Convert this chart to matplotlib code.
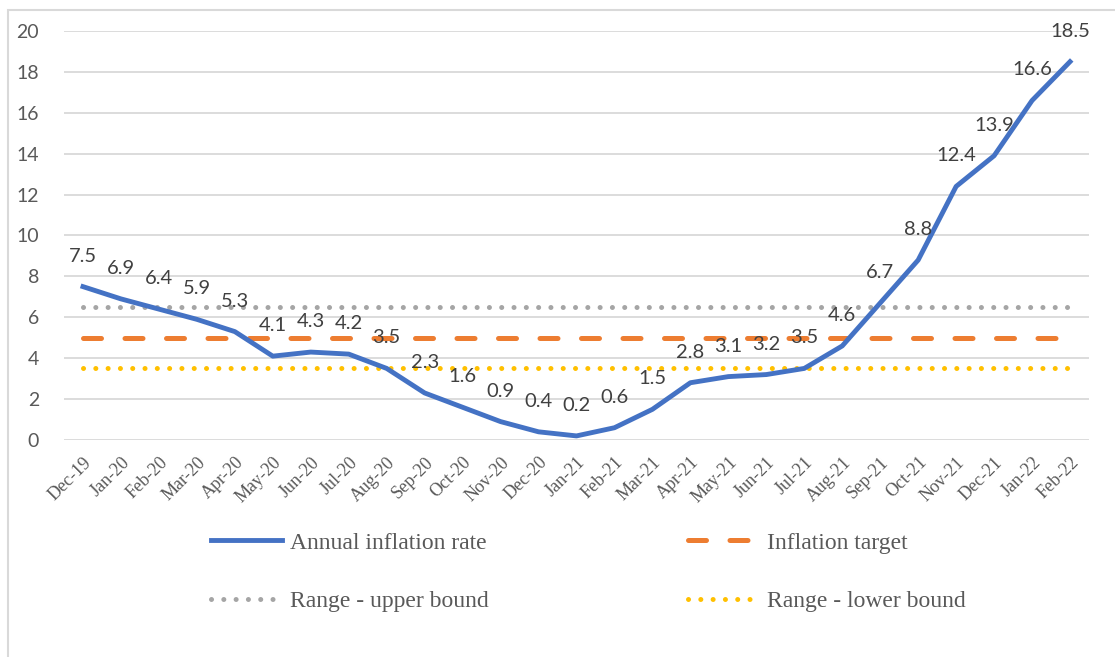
import matplotlib
matplotlib.use("Agg")
import matplotlib.pyplot as plt
from matplotlib.patches import Rectangle

# Data
months = ['Dec-19', 'Jan-20', 'Feb-20', 'Mar-20', 'Apr-20', 'May-20', 'Jun-20', 'Jul-20',
          'Aug-20', 'Sep-20', 'Oct-20', 'Nov-20', 'Dec-20', 'Jan-21', 'Feb-21', 'Mar-21',
          'Apr-21', 'May-21', 'Jun-21', 'Jul-21', 'Aug-21', 'Sep-21', 'Oct-21', 'Nov-21',
          'Dec-21', 'Jan-22', 'Feb-22']
inflation = [7.5, 6.9, 6.4, 5.9, 5.3, 4.1, 4.3, 4.2, 3.5, 2.3, 1.6, 0.9, 0.4, 0.2, 0.6,
             1.5, 2.8, 3.1, 3.2, 3.5, 4.6, 6.7, 8.8, 12.4, 13.9, 16.6, 18.5]
target = [5.0] * len(months)
upper = [6.5] * len(months)
lower = [3.5] * len(months)

W, H = 1115, 657
fig = plt.figure(figsize=(W / 100, H / 100), dpi=100)
ax = fig.add_axes([64 / W, 1 - 440 / H, (1089 - 64) / W, (440 - 31) / H])

x = list(range(len(months)))
text_col = '#595959'

# Series
ax.plot(x, upper, color='#A5A5A5', lw=3.6, linestyle=(0, (0.01, 2.45)),
        dash_capstyle='round', label='Range - upper bound', zorder=3)
ax.plot(x, lower, color='#FFC000', lw=3.6, linestyle=(0, (0.01, 2.45)),
        dash_capstyle='round', label='Range - lower bound', zorder=3)
ax.plot(x, target, color='#ED7D31', lw=3.6, linestyle=(0, (3.6, 4.7)),
        dash_capstyle='round', label='Inflation target', zorder=3)
ax.plot(x, inflation, color='#4472C4', lw=3.5, solid_joinstyle='round',
        label='Annual inflation rate', zorder=4)

# Data labels
for i, v in enumerate(inflation):
    ax.annotate(f'{v}', (i, v), xytext=(0, 22), textcoords='offset points',
                ha='center', va='center', fontsize=14.5, color='#404040',
                family='Lato', zorder=5)

# Axes styling
ax.set_xlim(-0.5, len(months) - 0.5)
ax.set_ylim(0, 20)
ax.set_yticks(range(0, 21, 2))
ax.yaxis.grid(True, color='#D9D9D9', lw=1.3)
ax.set_axisbelow(True)
for s in ax.spines.values():
    s.set_visible(False)
ax.tick_params(axis='both', length=0)
ax.tick_params(axis='y', pad=18)
ax.set_yticklabels([str(t) for t in range(0, 21, 2)], fontsize=14, color=text_col,
                   family='Lato')
ax.set_xticks(x)
ax.set_xticklabels(months, rotation=45, ha='right', va='top', rotation_mode='anchor',
                   fontsize=13, color=text_col, family='Liberation Serif')
ax.tick_params(axis='x', pad=10)

# Legend (column-wise fill: col 1 = rate, upper; col 2 = target, lower)
handles, labels = ax.get_legend_handles_labels()
order = [3, 0, 2, 1]
fig.legend([handles[k] for k in order], [labels[k] for k in order],
           loc='upper left', bbox_to_anchor=(211 / W, 1 - 532 / H), ncol=2,
           frameon=False, borderpad=0, borderaxespad=0, handlelength=3.0,
           handletextpad=0.34, columnspacing=8.45, labelspacing=1.58,
           prop={'family': 'Liberation Serif', 'size': 17}, labelcolor=text_col)

# Chart border
fig.add_artist(Rectangle((8 / W, -0.2), 2.0, 1.2 - 10 / H, transform=fig.transFigure,
                         fill=False, ec='#D9D9D9', lw=1.5))

fig.savefig('out.png', dpi=100)
